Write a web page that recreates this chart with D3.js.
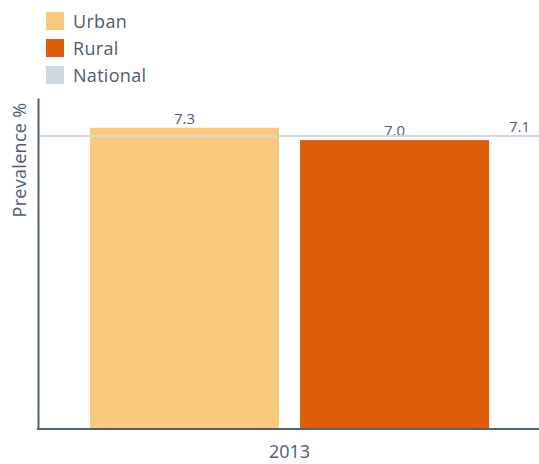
<!DOCTYPE html>
<html>
<head>
<meta charset="utf-8">
<script src="https://cdn.jsdelivr.net/npm/d3@7"></script>
<style>
    body { margin: 0; background: #fff; }
    text { font-family: "Open Sans", Lato, sans-serif; fill: #4b5d6e; }
</style>
</head>
<body>
<svg id="chart" width="539" height="464"></svg>
<script>
var years = ['2013'];
var series = ['Urban', 'Rural'];
var values = [7.3, 7.0];
var nationalValue = 7.1;
var legendNames = ['Urban', 'Rural', 'National'];
var colors = ['#fbc97c', '#de5d08', '#cdd8e3'];

var svg = d3.select('#chart');

var margin = { top: 98, left: 38, bottom: 429, right: 541 };

var y = d3.scaleLinear()
    .domain([0, 8.02])
    .range([margin.bottom, margin.top]);

var x0 = d3.scaleBand()
    .domain(years)
    .range([margin.left, margin.right])
    .paddingOuter(0.13);

var x1 = d3.scaleBand()
    .domain(series)
    .range([0, x0.bandwidth()])
    .paddingInner(0.1);

// legend
var legend = svg.append('g').attr('class', 'legend');
legendNames.forEach(function (name, i) {
    var g = legend.append('g')
        .attr('transform', 'translate(46,' + (12 + i * 27) + ')');
    g.append('rect')
        .attr('width', 18)
        .attr('height', 18)
        .attr('fill', colors[i]);
    g.append('text')
        .attr('x', 27)
        .attr('y', 16)
        .style('font-size', '18px')
        .style('letter-spacing', '0.3px')
        .text(name);
});

// bars
var group = svg.append('g')
    .attr('transform', 'translate(' + x0(years[0]) + ',0)');

group.selectAll('rect')
    .data(values)
    .enter().append('rect')
    .attr('x', function (d, i) { return x1(series[i]); })
    .attr('y', function (d) { return y(d); })
    .attr('width', x1.bandwidth())
    .attr('height', function (d) { return y(0) - y(d); })
    .attr('fill', function (d, i) { return colors[i]; });

// national line
svg.append('line')
    .attr('x1', margin.left + 1)
    .attr('x2', 539)
    .attr('y1', y(nationalValue))
    .attr('y2', y(nationalValue))
    .style('stroke', colors[2])
    .style('stroke-width', 2);

group.selectAll('.label')
    .data(values)
    .enter().append('text')
    .attr('class', 'label')
    .attr('x', function (d, i) { return x1(series[i]) + x1.bandwidth() / 2; })
    .attr('y', function (d) { return y(d) - 4; })
    .attr('text-anchor', 'middle')
    .style('font-size', '15px')
    .text(function (d) { return d.toFixed(1); });

svg.append('text')
    .attr('x', 530)
    .attr('y', y(nationalValue) - 4)
    .attr('text-anchor', 'end')
    .style('font-size', '15px')
    .text(nationalValue.toFixed(1));

// axes
var xAxis = svg.append('g')
    .attr('transform', 'translate(0,' + margin.bottom + ')')
    .call(d3.axisBottom(x0).tickSize(0).tickPadding(16));
xAxis.select('.domain')
    .attr('d', 'M' + (margin.left - 1) + ',0H539')
    .style('stroke', '#4f6275')
    .style('stroke-width', 2);
xAxis.selectAll('text')
    .style('font-size', '18px')
    .style('fill', '#4b5d6e')
    .style('font-family', '"Open Sans", Lato, sans-serif');

var yAxis = svg.append('g')
    .attr('transform', 'translate(' + margin.left + ',0)')
    .call(d3.axisLeft(y).tickValues([]).tickSizeOuter(0));
yAxis.select('.domain')
    .style('stroke', '#4f6275')
    .style('stroke-width', 2);

svg.append('text')
    .attr('transform', 'translate(26,160) rotate(-90)')
    .attr('text-anchor', 'middle')
    .style('font-size', '18px')
    .style('letter-spacing', '0.3px')
    .text('Prevalence %');
</script>
</body>
</html>
